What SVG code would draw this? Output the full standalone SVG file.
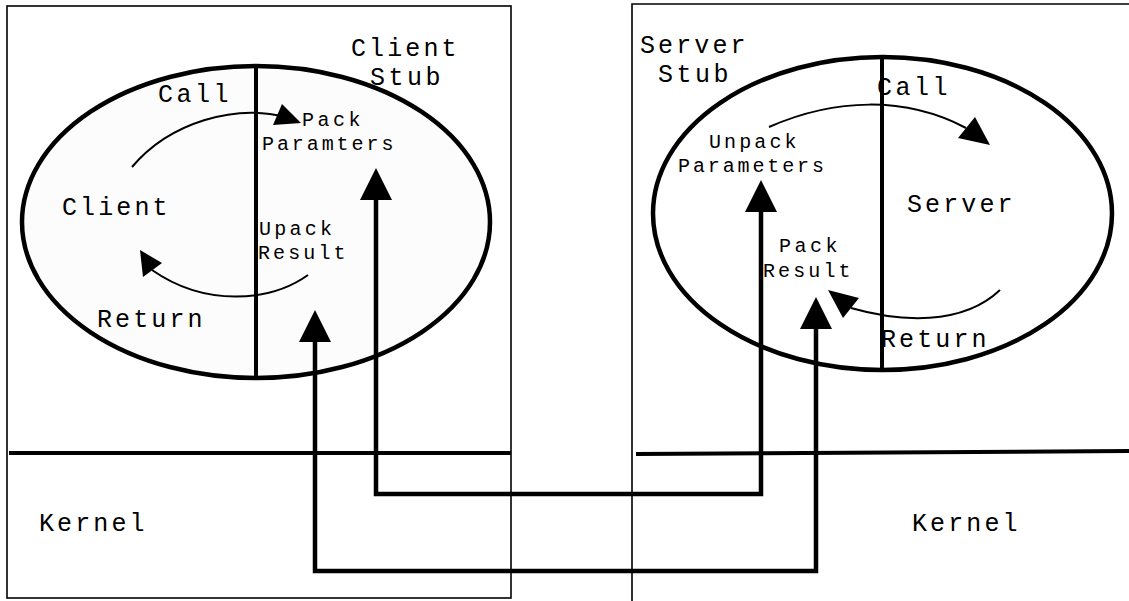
<svg xmlns="http://www.w3.org/2000/svg" width="1129" height="601" viewBox="0 0 1129 601">
<style>
text{font-family:"Liberation Mono","Courier New",monospace;fill:#000}
.big{font-size:25px}
.sm{font-size:20px}
.box{fill:none;stroke:#000;stroke-width:1.6}
.ell{stroke:#000;stroke-width:4.5}
.div{stroke:#000;stroke-width:4}
.kern{stroke:#000;stroke-width:4;fill:none}
.conn{fill:none;stroke:#000;stroke-width:4.5}
.arc{fill:none;stroke:#000;stroke-width:2}
.head{fill:#000}
</style>
<defs>
<marker id="ah" markerUnits="userSpaceOnUse" markerWidth="32" markerHeight="32" viewBox="0 0 30 30" refX="0" refY="15" orient="auto-start-reverse">
<path d="M0,0 L30,15 L0,30 z" fill="#000"/>
</marker>
</defs>
<rect width="1129" height="601" fill="#fff"/>
<g id="client-side">
<rect class="box" x="7" y="6" width="504" height="592"/>
<line class="kern" x1="9" y1="453" x2="511" y2="453"/>
<text class="big" x="39" y="531" textLength="105.6" lengthAdjust="spacing">Kernel</text>
</g>
<g id="server-side">
<path class="box" d="M632,601 V4 H1129"/>
<line class="kern" x1="636" y1="454" x2="1129" y2="451"/>
<text class="big" x="912" y="531" textLength="105.6" lengthAdjust="spacing">Kernel</text>
</g>
<g id="client-stub">
<ellipse class="ell" cx="256" cy="222" rx="234" ry="156" fill="#fcfcfc"/>
<line class="div" x1="256" y1="66" x2="256" y2="378"/>
<text class="big" x="351" y="56" textLength="105.6" lengthAdjust="spacing">Client</text>
<text class="big" x="370" y="85" textLength="70.4" lengthAdjust="spacing">Stub</text>
<text class="big" x="62" y="215" textLength="105.6" lengthAdjust="spacing">Client</text>
<text class="big" x="158" y="102" textLength="70.4" lengthAdjust="spacing">Call</text>
<text class="big" x="97" y="327" textLength="105.6" lengthAdjust="spacing">Return</text>
<text class="sm" x="302" y="126" textLength="58.4" lengthAdjust="spacing">Pack</text>
<text class="sm" x="262" y="150" textLength="131.4" lengthAdjust="spacing">Paramters</text>
<text class="sm" x="259" y="235" textLength="73" lengthAdjust="spacing">Upack</text>
<text class="sm" x="258" y="259" textLength="87.6" lengthAdjust="spacing">Result</text>
</g>
<g id="server-stub">
<ellipse class="ell" cx="882.5" cy="213.5" rx="229.5" ry="156.5" fill="#fff"/>
<line class="div" x1="882" y1="57" x2="882" y2="370"/>
<text class="big" x="640" y="53" textLength="105.6" lengthAdjust="spacing">Server</text>
<text class="big" x="658" y="82" textLength="70.4" lengthAdjust="spacing">Stub</text>
<text class="big" x="877" y="95" textLength="70.4" lengthAdjust="spacing">Call</text>
<text class="big" x="907" y="212" textLength="105.6" lengthAdjust="spacing">Server</text>
<text class="big" x="881" y="347" textLength="105.6" lengthAdjust="spacing">Return</text>
<text class="sm" x="709" y="148" textLength="87.6" lengthAdjust="spacing">Unpack</text>
<text class="sm" x="678" y="172" textLength="146" lengthAdjust="spacing">Parameters</text>
<text class="sm" x="779" y="252" textLength="58.4" lengthAdjust="spacing">Pack</text>
<text class="sm" x="763" y="277" textLength="87.6" lengthAdjust="spacing">Result</text>
</g>
<g id="connectors">
<path class="conn" d="M376,200 V494 H761 V212" marker-start="url(#ah)" marker-end="url(#ah)"/>
<path class="conn" d="M315,342 V571 H816 V329" marker-start="url(#ah)" marker-end="url(#ah)"/>
<path class="arc" d="M132,167 C170,122 235,104 285,117"/>
<polygon class="head" points="282,104 273,125 301,123"/>
<path class="arc" d="M308,275 C270,302 205,307 152,270"/>
<polygon class="head" points="140,250 143,277 162,263"/>
<path class="arc" d="M769,127 C835,98 905,96 966,128"/>
<polygon class="head" points="975,117 958,138 990,145"/>
<path class="arc" d="M1000,290 C962,326 900,322 851,308"/>
<polygon class="head" points="828,290 843,318 859,298"/>
</g>
</svg>
